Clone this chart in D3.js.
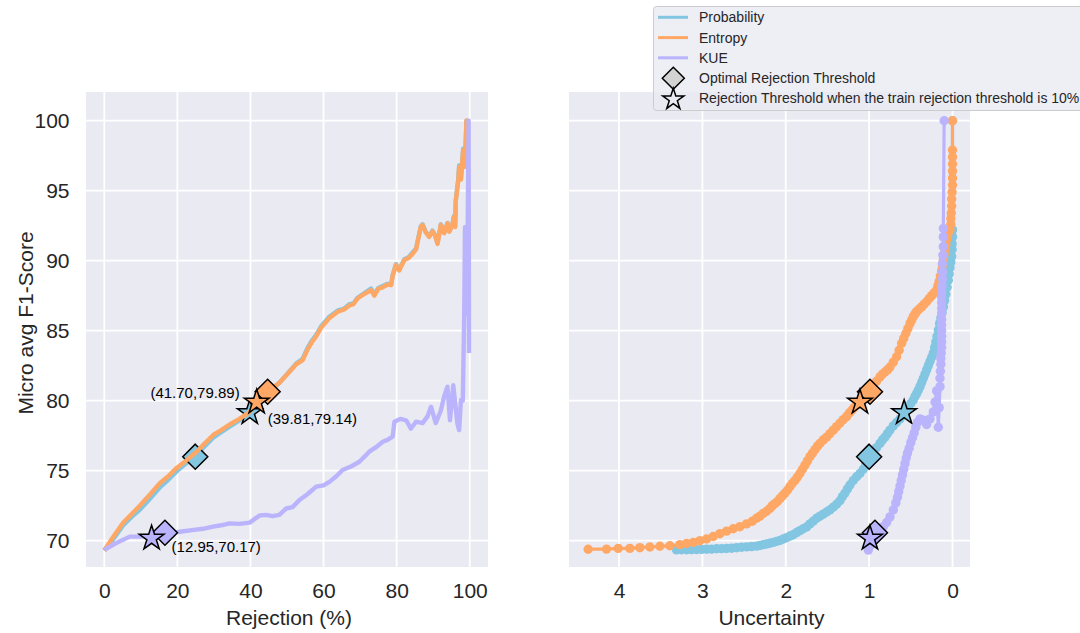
<!DOCTYPE html>
<html><head><meta charset="utf-8">
<script src="https://cdn.jsdelivr.net/npm/d3@7"></script>
<style>body{margin:0;background:#fff}svg{display:block;font-family:"Liberation Sans",Arial,sans-serif}</style>
</head><body><svg id="c" width="1080" height="633"></svg>
<script>
// ---------- DATA ----------
const seriesNames = ["Probability", "Entropy", "KUE"];
const seriesColors = ["#82c6e2", "#ffa866", "#bab4fc"];
const markerNames = ["Optimal Rejection Threshold", "Rejection Threshold when the train rejection threshold is 10%"];

const rejTicks = [0, 20, 40, 60, 80, 100];
const uncTicks = [4, 3, 2, 1, 0];
const f1Ticks = [70, 75, 80, 85, 90, 95, 100];

// left panel: [rejection %, micro avg F1]
const probRejection = [[0,69.3],[2,69.95],[5.2,71.1],[7.5,71.7],[9.7,72.2],[12.5,73.0],[15.2,73.8],[17.5,74.35],[19.8,74.95],[22.3,75.5],[24.8,76.0],[27.3,76.7],[29.8,77.35],[32,77.75],[34.3,78.15],[37,78.6],[39.81,79.14],[42,79.8],[44,80.4],[46,80.85],[48,81.3],[50.7,82.1],[52.5,82.65],[54.3,83.0],[55.5,83.7],[56.6,84.2],[58,84.7],[59.3,85.3],[61.6,86.0],[63.9,86.45],[65.5,86.55],[67.1,86.9],[68.2,86.95],[69.3,87.35],[71,87.65],[73.0,88.0],[73.9,87.6],[75,88.05],[76.2,88.2],[77.5,88.35],[78.5,88.3],[78.9,88.95],[79.8,89.75],[80.7,89.35],[82.1,90.1],[83.3,90.25],[84.4,90.6],[85.3,90.85],[86.6,92.45],[87.1,92.6],[88,92.05],[88.9,91.75],[89.8,92.15],[90.5,91.85],[91.2,91.25],[92.1,92.6],[93.0,92.0],[93.9,92.7],[94.4,92.1],[95.2,92.55],[95.7,93.2],[96.0,92.45],[96.2,94.35],[96.9,95.9],[97.1,96.8],[97.6,95.9],[98.2,98.0],[98.7,96.8],[99.1,100],[99.6,100]];
const entropyRejection = [[0,69.3],[2,70.1],[5.2,71.3],[7.5,71.9],[9.7,72.5],[12.5,73.3],[15.2,74.1],[17.5,74.6],[19.8,75.2],[22.3,75.7],[24.8,76.25],[27.3,76.9],[29.8,77.55],[32,77.9],[34.3,78.3],[37,78.7],[39.8,79.2],[41.7,79.89],[44,80.5],[46,80.9],[48,81.3],[50.7,82.07],[52.5,82.6],[54.3,82.9],[55.5,83.6],[56.6,84.1],[58,84.6],[59.3,85.2],[61.6,85.9],[63.9,86.36],[65.5,86.5],[67.1,86.8],[68.2,86.9],[69.3,87.3],[71,87.6],[73.0,87.9],[73.9,87.5],[75,88.0],[76.2,88.1],[77.5,88.3],[78.5,88.25],[78.9,88.9],[79.8,89.7],[80.7,89.3],[82.1,90.05],[83.3,90.2],[84.4,90.5],[85.3,90.8],[86.6,92.4],[87.1,92.55],[88,92.0],[88.9,91.7],[89.8,92.1],[90.5,91.8],[91.2,91.2],[92.1,92.55],[93.0,91.96],[93.9,92.67],[94.4,92.07],[95.2,92.5],[95.7,93.14],[96.0,92.4],[96.2,94.3],[96.9,95.8],[97.1,96.7],[97.6,95.8],[98.2,97.9],[98.7,96.7],[99.1,100],[99.6,100]];
const kueRejection = [[0,69.34],[3,69.8],[7.0,70.29],[10,70.3],[13.4,70.4],[17,70.5],[20.7,70.64],[24,70.75],[27,70.85],[29.8,71.0],[32,71.1],[34.3,71.24],[37,71.2],[39.8,71.29],[42.5,71.8],[44.3,71.84],[46,71.75],[47.9,71.84],[49.8,72.3],[51.5,72.4],[53.4,72.9],[55.5,73.3],[58.0,73.86],[60,73.95],[61.6,74.2],[63.5,74.6],[65.2,75.05],[67.5,75.3],[69.8,75.64],[71.2,76.0],[72.5,76.36],[74.5,76.7],[76.2,77.07],[77.5,77.2],[78.9,77.43],[79.4,78.5],[81,78.7],[82.6,78.6],[83.9,78.0],[85.3,78.5],[87.1,78.4],[88.5,78.9],[89.4,79.57],[90.7,78.4],[92.1,79.3],[93.0,80.3],[93.9,81.0],[94.6,78.6],[95.5,81.1],[96.6,78.4],[97.1,77.9],[97.6,80.05],[98.1,80.0],[98.5,86.2],[98.7,92.4],[99.0,88.0],[99.2,86.2],[99.4,91.0],[99.7,100],[99.8,83.4]];

// right panel: [uncertainty, micro avg F1]
const probUncertainty = [[3.31,69.34],[3.25,69.35],[3.19,69.35],[3.13,69.36],[3.07,69.37],[3.01,69.38],[2.95,69.39],[2.89,69.4],[2.83,69.42],[2.77,69.43],[2.71,69.44],[2.65,69.46],[2.59,69.5],[2.53,69.53],[2.47,69.56],[2.41,69.58],[2.35,69.61],[2.31,69.66],[2.27,69.72],[2.23,69.76],[2.19,69.82],[2.15,69.88],[2.11,69.95],[2.07,70.02],[2.03,70.12],[1.99,70.22],[1.95,70.33],[1.91,70.42],[1.87,70.58],[1.83,70.72],[1.79,70.85],[1.75,70.98],[1.71,71.2],[1.67,71.4],[1.63,71.6],[1.59,71.75],[1.55,71.9],[1.51,72.05],[1.47,72.2],[1.43,72.4],[1.39,72.6],[1.35,72.85],[1.32,73.15],[1.29,73.4],[1.26,73.7],[1.23,73.98],[1.19,74.3],[1.15,74.57],[1.11,74.8],[1.07,75.1],[1.04,75.5],[1.0,75.93],[0.96,76.3],[0.91,76.65],[0.87,76.95],[0.84,77.2],[0.81,77.4],[0.78,77.65],[0.75,77.9],[0.71,78.2],[0.67,78.45],[0.63,78.7],[0.59,78.98],[0.56,79.25],[0.53,79.5],[0.5,79.8],[0.47,80.05],[0.45,80.3],[0.43,80.5],[0.41,80.75],[0.39,81.0],[0.37,81.3],[0.35,81.6],[0.33,81.9],[0.31,82.2],[0.29,82.5],[0.27,82.8],[0.25,83.1],[0.23,83.4],[0.215,83.8],[0.2,84.2],[0.185,84.6],[0.17,85.05],[0.155,85.5],[0.14,85.9],[0.125,86.3],[0.11,86.7],[0.095,87.15],[0.08,87.6],[0.065,88.1],[0.05,88.6],[0.04,89.05],[0.03,89.5],[0.02,89.9],[0.01,90.3],[0.005,90.8],[0.005,91.2],[0.0,91.7],[0.0,92.2],[0.0,100]];
const entropyUncertainty = [[4.37,69.39],[4.15,69.4],[4.01,69.45],[3.87,69.45],[3.75,69.5],[3.63,69.55],[3.51,69.6],[3.39,69.64],[3.27,69.72],[3.19,69.8],[3.11,69.87],[3.03,70.0],[2.95,70.12],[2.87,70.3],[2.79,70.5],[2.71,70.68],[2.63,70.85],[2.55,71.0],[2.47,71.2],[2.4,71.4],[2.35,71.6],[2.31,71.75],[2.27,71.95],[2.23,72.1],[2.19,72.3],[2.16,72.5],[2.13,72.65],[2.1,72.8],[2.07,73.0],[2.04,73.2],[2.01,73.4],[1.98,73.6],[1.95,73.86],[1.92,74.1],[1.89,74.3],[1.86,74.55],[1.83,74.8],[1.8,75.1],[1.77,75.4],[1.74,75.7],[1.71,76.0],[1.68,76.25],[1.65,76.5],[1.62,76.75],[1.59,76.95],[1.55,77.2],[1.51,77.4],[1.47,77.65],[1.43,77.9],[1.39,78.15],[1.35,78.4],[1.31,78.65],[1.27,78.86],[1.24,79.1],[1.21,79.3],[1.18,79.5],[1.15,79.7],[1.12,79.9],[1.09,80.1],[1.06,80.3],[1.03,80.5],[0.99,80.8],[0.95,81.1],[0.91,81.4],[0.87,81.7],[0.84,81.9],[0.81,82.05],[0.78,82.2],[0.75,82.4],[0.71,82.75],[0.67,83.14],[0.64,83.6],[0.61,84.1],[0.585,84.45],[0.56,84.8],[0.535,85.15],[0.51,85.5],[0.49,85.75],[0.47,86.0],[0.45,86.2],[0.43,86.36],[0.4,86.55],[0.37,86.7],[0.34,86.9],[0.31,87.07],[0.28,87.3],[0.25,87.5],[0.22,87.7],[0.19,87.9],[0.175,88.2],[0.16,88.5],[0.145,88.9],[0.13,89.3],[0.12,89.7],[0.11,90.05],[0.1,90.45],[0.09,90.8],[0.08,91.15],[0.07,91.5],[0.06,91.75],[0.05,92.0],[0.03,92.2],[0.02,92.6],[0.02,93.0],[0.015,93.4],[0.01,93.9],[0.01,94.4],[0.005,94.9],[0.0,95.4],[0.0,95.9],[0.0,96.4],[0.0,96.9],[0.0,97.4],[0.0,97.9],[0.0,100]];
const kueUncertainty = [[1.01,69.33],[0.98,69.7],[0.95,70.1],[0.91,70.4],[0.87,70.7],[0.83,71.0],[0.79,71.3],[0.75,71.7],[0.71,72.2],[0.68,72.7],[0.66,73.1],[0.645,73.5],[0.63,73.9],[0.615,74.3],[0.6,74.7],[0.585,75.1],[0.57,75.5],[0.555,75.9],[0.54,76.25],[0.52,76.6],[0.5,77.0],[0.48,77.35],[0.46,77.7],[0.44,78.1],[0.42,78.45],[0.39,78.7],[0.35,78.6],[0.31,78.3],[0.27,78.7],[0.23,79.2],[0.21,79.9],[0.19,80.7],[0.18,79.5],[0.17,78.1],[0.16,79.5],[0.15,81.0],[0.15,81.6],[0.145,82.1],[0.14,82.6],[0.14,83.0],[0.135,83.4],[0.13,83.8],[0.13,84.2],[0.13,84.6],[0.13,85.0],[0.13,85.4],[0.13,85.8],[0.13,86.2],[0.13,86.6],[0.13,87.0],[0.13,87.4],[0.13,87.8],[0.125,88.2],[0.12,88.7],[0.12,89.2],[0.12,89.8],[0.115,90.4],[0.11,91.0],[0.11,91.7],[0.11,92.3],[0.1,100]];

// markers: optimal rejection threshold (diamond) and train-threshold-10% (star)
const optimalRejection = [[24.9,76.0],[44.7,80.64],[16.6,70.57]];
const trainRejection = [[39.81,79.14],[41.70,79.89],[12.95,70.17]];
const optimalUncertainty = [[1.0,76.0],[0.99,80.64],[0.93,70.57]];
const trainUncertainty = [[0.58,79.14],[1.11,79.89],[0.99,70.17]];
const trainLabels = ["(39.81,79.14)", "(41.70,79.89)", "(12.95,70.17)"];

// ---------- DRAW ----------
const svg = d3.select("#c");
const FONT = '"Liberation Sans", Arial, sans-serif';
const xL = d3.scaleLinear().domain([-5, 105]).range([86, 488]);
const xR = d3.scaleLinear().domain([4.6, -0.21]).range([569, 970]);
const y = d3.scaleLinear().domain([68.12, 102.05]).range([567, 92]);

function panel(x, ticks, label) {
  const g = svg.append("g");
  g.append("rect").attr("x", x.range()[0]).attr("y", y.range()[1])
    .attr("width", x.range()[1] - x.range()[0]).attr("height", y.range()[0] - y.range()[1])
    .attr("fill", "#eaeaf2");
  g.selectAll(".vg").data(ticks).join("line")
    .attr("x1", d => x(d)).attr("x2", d => x(d)).attr("y1", y.range()[1]).attr("y2", y.range()[0])
    .attr("stroke", "#fff").attr("stroke-width", 1.8);
  g.selectAll(".hg").data(f1Ticks).join("line")
    .attr("x1", x.range()[0]).attr("x2", x.range()[1]).attr("y1", d => y(d)).attr("y2", d => y(d))
    .attr("stroke", "#fff").attr("stroke-width", 1.8);
  const ax = svg.append("g").attr("transform", `translate(0,${y.range()[0]})`)
    .call(d3.axisBottom(x).tickValues(ticks).tickSize(0).tickPadding(16).tickFormat(d3.format("d")));
  ax.select(".domain").remove();
  ax.selectAll("text").attr("font-size", 21).attr("font-family", FONT).attr("fill", "#262626");
  svg.append("text").attr("x", (x.range()[0] + x.range()[1]) / 2 + 2).attr("y", 625)
    .attr("text-anchor", "middle").attr("font-size", 21).attr("font-family", FONT).attr("fill", "#262626")
    .text(label);
  return g;
}
panel(xL, rejTicks, "Rejection (%)");
panel(xR, uncTicks, "Uncertainty");

const ay = svg.append("g").attr("transform", `translate(${xL.range()[0]},0)`)
  .call(d3.axisLeft(y).tickValues(f1Ticks).tickSize(0).tickPadding(16.5).tickFormat(d3.format("d")));
ay.select(".domain").remove();
ay.selectAll("text").attr("font-size", 21).attr("font-family", FONT).attr("fill", "#262626");
svg.append("text").attr("transform", "translate(33,323) rotate(-90)").attr("text-anchor", "middle")
  .attr("font-size", 21).attr("font-family", FONT).attr("fill", "#262626").text("Micro avg F1-Score");

const diamondPath = r => `M0,${-r}L${r},0L0,${r}L${-r},0Z`;
const starPath = d3.symbol(d3.symbolStar, 190)();

const leftData = [probRejection, entropyRejection, kueRejection];
const rightData = [probUncertainty, entropyUncertainty, kueUncertainty];
const lineL = d3.line().x(d => xL(d[0])).y(d => y(d[1]));
const lineR = d3.line().x(d => xR(d[0])).y(d => y(d[1]));

leftData.forEach((data, i) => {
  svg.append("path").datum(data).attr("d", lineL).attr("fill", "none")
    .attr("stroke", seriesColors[i]).attr("stroke-width", 4.4).attr("stroke-linejoin", "round");
  svg.append("path").attr("d", diamondPath(12.5))
    .attr("transform", `translate(${xL(optimalRejection[i][0])},${y(optimalRejection[i][1])})`)
    .attr("fill", seriesColors[i]).attr("stroke", "#000").attr("stroke-width", 1.5);
  svg.append("path").attr("d", starPath)
    .attr("transform", `translate(${xL(trainRejection[i][0])},${y(trainRejection[i][1])})`)
    .attr("fill", seriesColors[i]).attr("stroke", "#000").attr("stroke-width", 1.5);
});

const labelOffsets = [[18, 11, "start"], [-17, -4, "end"], [20, 14, "start"]];
trainRejection.forEach((p, i) => {
  svg.append("text").attr("x", xL(p[0]) + labelOffsets[i][0]).attr("y", y(p[1]) + labelOffsets[i][1])
    .attr("text-anchor", labelOffsets[i][2]).attr("font-size", 15).attr("font-family", FONT)
    .attr("fill", "#000").text(trainLabels[i]);
});

rightData.forEach((data, i) => {
  svg.append("path").datum(data).attr("d", lineR).attr("fill", "none")
    .attr("stroke", seriesColors[i]).attr("stroke-width", 3.2).attr("stroke-linejoin", "round");
  svg.append("g").selectAll("circle").data(data).join("circle")
    .attr("cx", d => xR(d[0])).attr("cy", d => y(d[1])).attr("r", 4.7).attr("fill", seriesColors[i]);
  svg.append("path").attr("d", diamondPath(12.5))
    .attr("transform", `translate(${xR(optimalUncertainty[i][0])},${y(optimalUncertainty[i][1])})`)
    .attr("fill", seriesColors[i]).attr("stroke", "#000").attr("stroke-width", 1.5);
  svg.append("path").attr("d", starPath)
    .attr("transform", `translate(${xR(trainUncertainty[i][0])},${y(trainUncertainty[i][1])})`)
    .attr("fill", seriesColors[i]).attr("stroke", "#000").attr("stroke-width", 1.5);
});

// legend
const lg = svg.append("g");
lg.append("rect").attr("x", 653.5).attr("y", 6.5).attr("width", 440).attr("height", 104).attr("rx", 3)
  .attr("fill", "#eaeaf2").attr("fill-opacity", 0.8).attr("stroke", "#cccccc");
const legendRows = [17.3, 37.6, 57.8, 78.2, 98.4];
seriesNames.forEach((n, i) => {
  lg.append("line").attr("x1", 658).attr("x2", 688).attr("y1", legendRows[i]).attr("y2", legendRows[i])
    .attr("stroke", seriesColors[i]).attr("stroke-width", 3);
  lg.append("text").attr("x", 699).attr("y", legendRows[i] + 5).attr("font-size", 14)
    .attr("font-family", FONT).attr("fill", "#262626").text(n);
});
lg.append("path").attr("d", diamondPath(11)).attr("transform", `translate(673.3,${legendRows[3]})`)
  .attr("fill", "#d3d3d3").attr("stroke", "#000").attr("stroke-width", 1.5);
lg.append("path").attr("d", d3.symbol(d3.symbolStar, 140)()).attr("transform", `translate(673.3,${legendRows[4] + 1})`)
  .attr("fill", "none").attr("stroke", "#000").attr("stroke-width", 1.5);
markerNames.forEach((n, i) => {
  lg.append("text").attr("x", 699).attr("y", legendRows[3 + i] + 5).attr("font-size", 14)
    .attr("font-family", FONT).attr("fill", "#262626").text(n);
});
</script></body></html>
